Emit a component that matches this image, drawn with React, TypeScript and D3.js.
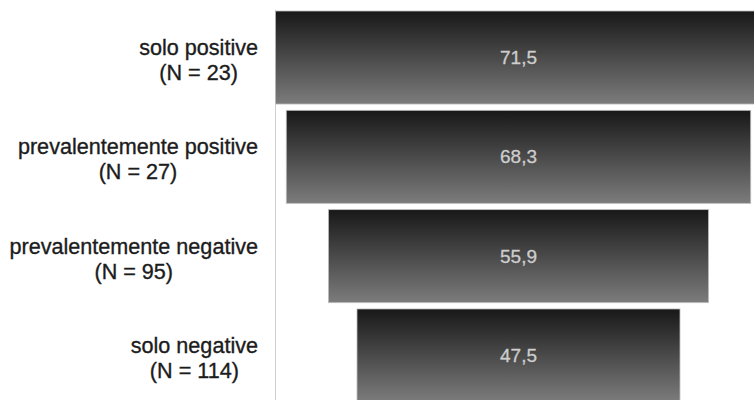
import React, { useEffect, useRef } from "react";
import * as d3 from "d3";

// Funnel rows, top to bottom
const categories = [
  "solo positive",
  "prevalentemente positive",
  "prevalentemente negative",
  "solo negative",
];
const counts = [23, 27, 95, 114];
const values = [71.5, 68.3, 55.9, 47.5];

const W = 754;
const H = 400;

export default function App() {
  const ref = useRef<SVGSVGElement | null>(null);

  useEffect(() => {
    const svg = d3.select(ref.current);
    svg.selectAll("*").remove();

    const centerX = 518.5;
    const axisX = 275.5;

    const width = d3.scaleLinear().domain([0, 100]).range([0, 680]);
    const y = d3
      .scaleBand<string>()
      .domain(categories)
      .range([11, 402])
      .paddingInner(0.0634)
      .paddingOuter(0);

    const defs = svg.append("defs");
    const grad = defs
      .append("linearGradient")
      .attr("id", "barGrad")
      .attr("x1", 0)
      .attr("y1", 0)
      .attr("x2", 0)
      .attr("y2", 1);
    grad.append("stop").attr("offset", "0%").attr("stop-color", "#181818");
    grad.append("stop").attr("offset", "100%").attr("stop-color", "#7c7c7c");

    // vertical category axis line
    svg
      .append("line")
      .attr("x1", axisX)
      .attr("x2", axisX)
      .attr("y1", 10)
      .attr("y2", H)
      .attr("stroke", "#d0d0d0")
      .attr("stroke-width", 1);

    const rows = svg
      .selectAll("g.row")
      .data(categories)
      .join("g")
      .attr("class", "row");

    rows
      .append("rect")
      .attr("x", (_, i) => centerX - width(values[i]) / 2)
      .attr("y", (d) => y(d)!)
      .attr("width", (_, i) => width(values[i]))
      .attr("height", y.bandwidth())
      .attr("fill", "url(#barGrad)")
      .attr("stroke", "#bdbdbd")
      .attr("stroke-width", 0.8);

    rows
      .append("text")
      .attr("x", centerX)
      .attr("y", (d) => y(d)! + y.bandwidth() / 2)
      .attr("dy", "0.35em")
      .attr("text-anchor", "middle")
      .attr("font-family", "'Liberation Sans', Arial, sans-serif")
      .attr("font-size", 19)
      .attr("fill", "#cdcdcd")
      .attr("stroke", "#cdcdcd")
      .attr("stroke-width", 0.3)
      .text((_, i) => values[i].toFixed(1).replace(".", ","));

    // two-line category labels, lines centered on each other, block right-aligned
    const labelRight = 258;
    rows.each(function (d, i) {
      const g = d3.select(this);
      const cy = y(d)! + y.bandwidth() / 2;
      const t = g
        .append("text")
        .attr("font-family", "'Liberation Sans', Arial, sans-serif")
        .attr("font-size", 21.6)
        .attr("fill", "#1c1c1c")
        .attr("stroke", "#1c1c1c")
        .attr("stroke-width", 0.35)
        .attr("text-anchor", "middle");
      const l1 = t.append("tspan").attr("y", cy - 10).attr("dy", "0.35em").text(d);
      const l2 = t
        .append("tspan")
        .attr("y", cy + 15)
        .attr("dy", "0.35em")
        .text(`(N = ${counts[i]})`);
      const w = Math.max(
        (l1.node() as SVGTextContentElement).getComputedTextLength(),
        (l2.node() as SVGTextContentElement).getComputedTextLength()
      );
      const mx = labelRight - w / 2;
      l1.attr("x", mx);
      l2.attr("x", mx);
    });
  }, []);

  return (
    <svg
      ref={ref}
      width={W}
      height={H}
      style={{ position: "absolute", left: 0, top: 0, background: "#fff" }}
    />
  );
}
